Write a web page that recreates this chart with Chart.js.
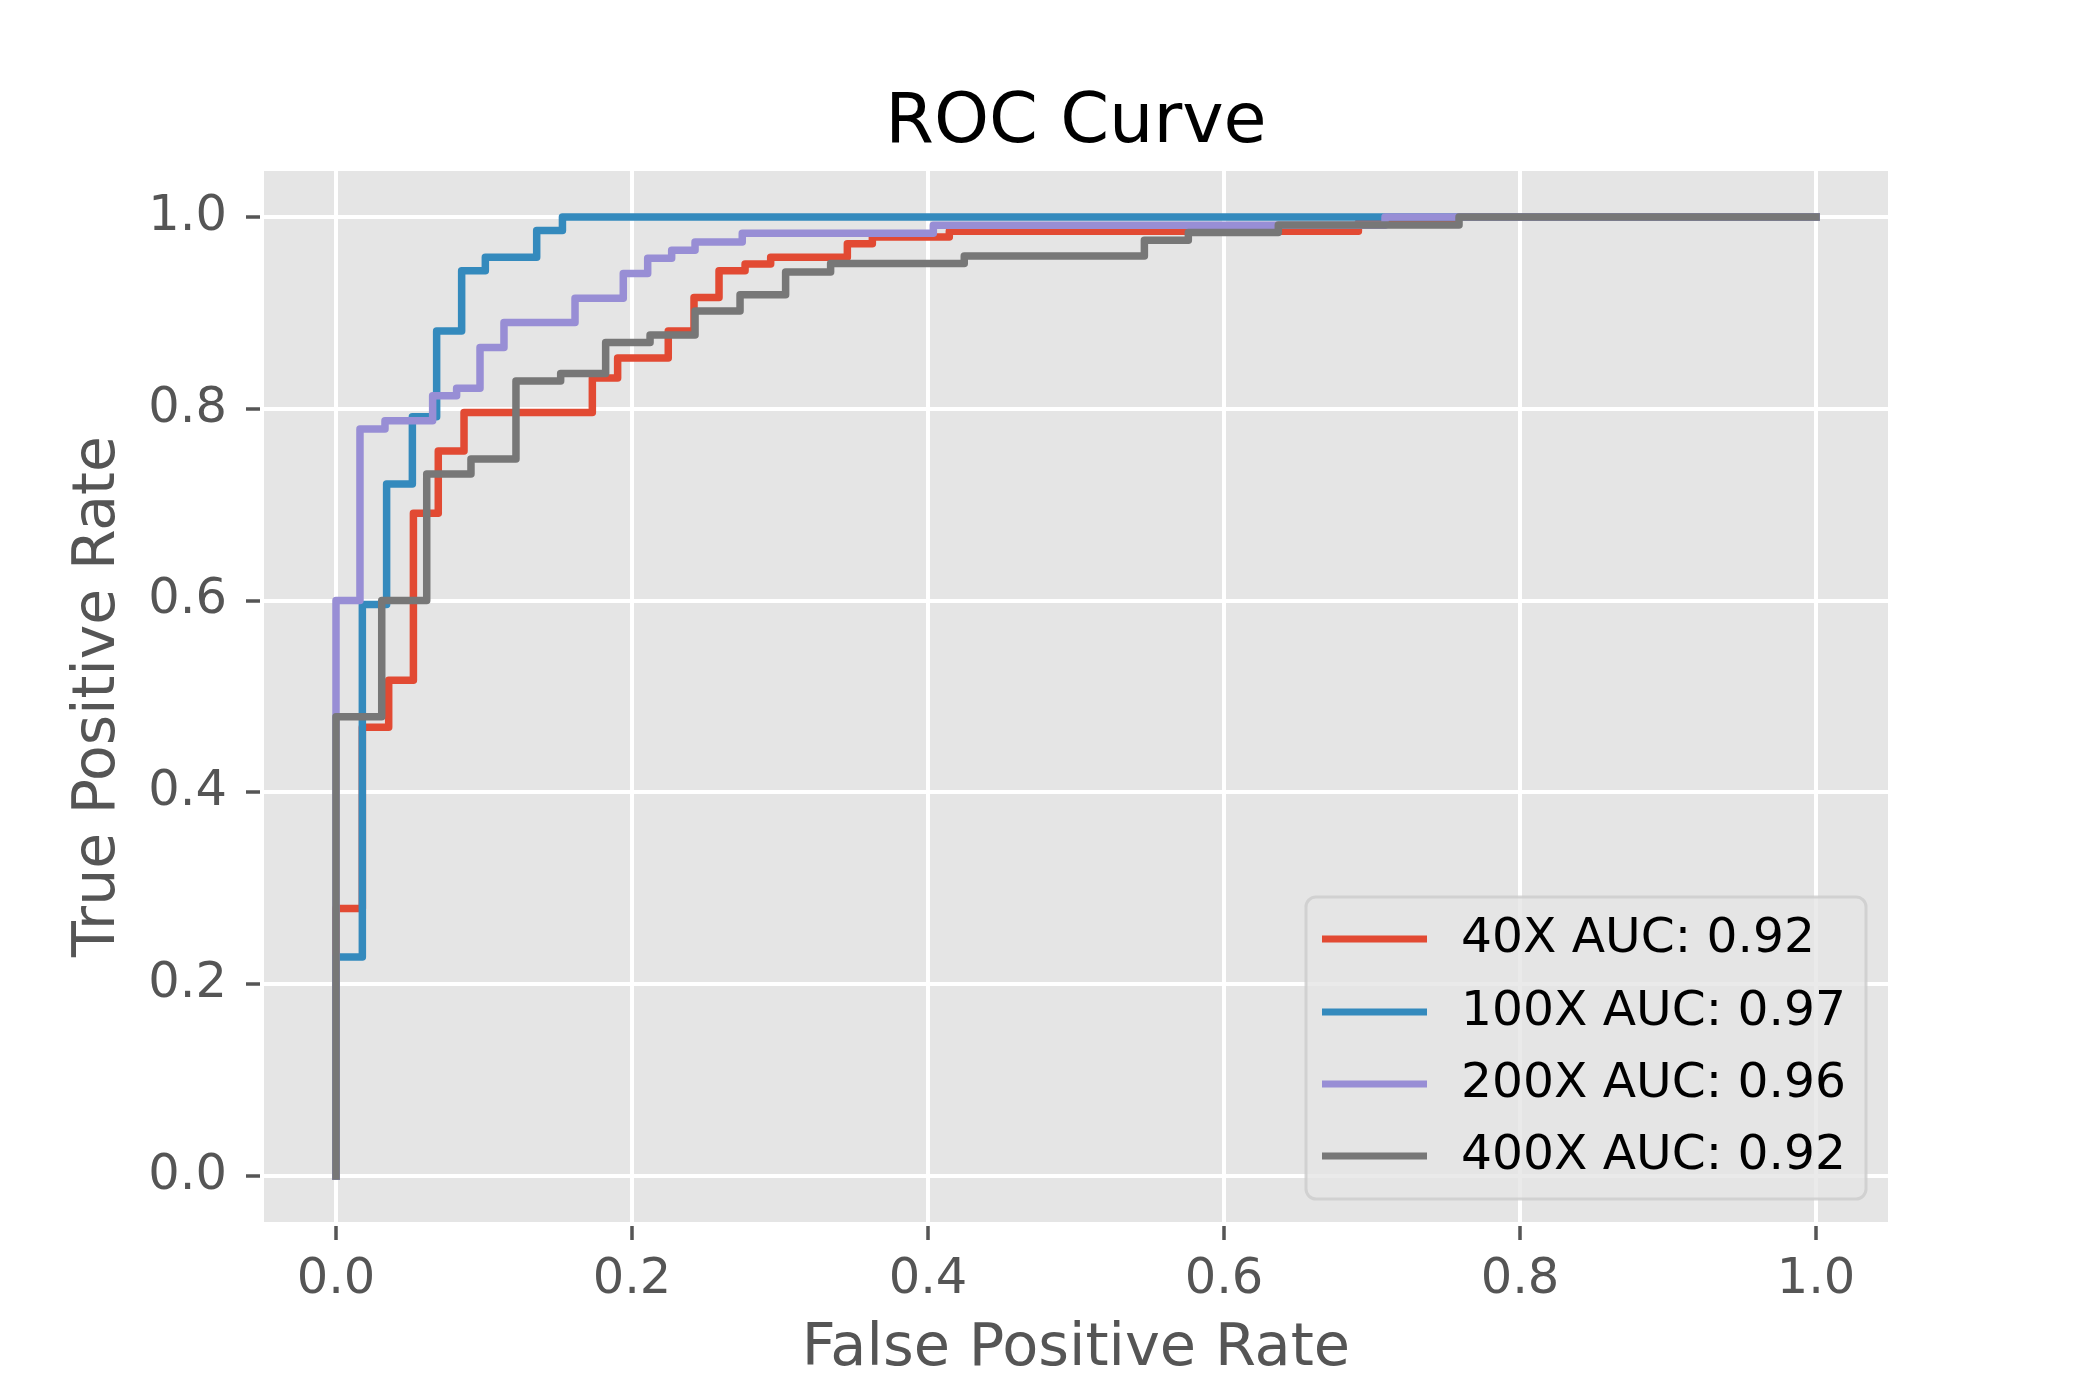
<!DOCTYPE html>
<html>
<head>
<meta charset="utf-8">
<script src="https://cdn.jsdelivr.net/npm/chart.js@4"></script>
<style>
  html, body { margin: 0; padding: 0; background: #fff; overflow: hidden; }
  canvas { display: block; }
</style>
</head>
<body>
<canvas id="roc-chart" width="2100" height="1400" style="width:2100px;height:1400px"></canvas>
<script>
// ROC step corners (fpr where tpr rises, tpr after the rise)
const fpr40 = [0, 0, 0.0178, 0.0356, 0.0523, 0.0691, 0.0865, 0.1732, 0.1903, 0.2245, 0.2419, 0.2588, 0.2764, 0.2937, 0.3455, 0.3624, 0.4144, 0.6908, 0.7583, 1.0];
const tpr40 = [0, 0.279, 0.468, 0.517, 0.691, 0.756, 0.796, 0.832, 0.853, 0.881, 0.916, 0.944, 0.951, 0.958, 0.972, 0.979, 0.985, 0.994, 1.0, 1.0];

const fpr100 = [0, 0, 0.0178, 0.0342, 0.0516, 0.068, 0.0849, 0.1009, 0.1356, 0.153, 1.0];
const tpr100 = [0, 0.2285, 0.596, 0.7215, 0.7917, 0.881, 0.944, 0.958, 0.986, 1.0, 1.0];

const fpr200 = [0, 0, 0.0162, 0.0331, 0.0653, 0.0815, 0.0973, 0.1135, 0.1615, 0.1941, 0.2106, 0.2268, 0.2426, 0.2745, 0.4036, 0.7088, 1.0];
const tpr200 = [0, 0.6, 0.779, 0.7875, 0.8135, 0.8215, 0.864, 0.89, 0.9153, 0.941, 0.957, 0.9653, 0.974, 0.983, 0.9913, 1.0, 1.0];

const fpr400 = [0, 0, 0.0309, 0.0613, 0.0912, 0.1216, 0.1518, 0.1822, 0.2122, 0.2426, 0.273, 0.3038, 0.3342, 0.4245, 0.5462, 0.5759, 0.6367, 0.7588, 1.0];
const tpr400 = [0, 0.479, 0.6, 0.732, 0.7476, 0.829, 0.8368, 0.869, 0.877, 0.902, 0.919, 0.9427, 0.9514, 0.9594, 0.9757, 0.9837, 0.9917, 1.0, 1.0];

const seriesLabels = ['40X AUC: 0.92', '100X AUC: 0.97', '200X AUC: 0.96', '400X AUC: 0.92'];
const seriesColors = ['#E24A33', '#348ABD', '#988ED5', '#777777'];
const tickValues = [0, 0.2, 0.4, 0.6, 0.8, 1.0];

const FONT = 'DejaVu Sans';
const LINE_W = 7.5;

function toPoints(xs, ys) {
    return xs.map((x, i) => ({ x: x, y: ys[i] }));
}

const allX = [fpr40, fpr100, fpr200, fpr400];
const allY = [tpr40, tpr100, tpr200, tpr400];

const datasets = seriesLabels.map((label, i) => ({
    label: label,
    data: toPoints(allX[i], allY[i]),
    showLine: true,
    stepped: 'before',
    borderColor: seriesColors[i],
    backgroundColor: seriesColors[i],
    borderWidth: LINE_W,
    borderCapStyle: 'square',
    borderJoinStyle: 'round',
    pointRadius: 0,
    fill: false,
    order: seriesLabels.length - i   // later series drawn on top, like matplotlib
}));

// grey ggplot panel behind the grid, white frame on top
const panelBackground = {
    id: 'panelBackground',
    beforeDraw(chart) {
        const { ctx, chartArea } = chart;
        ctx.save();
        ctx.fillStyle = '#ffffff';
        ctx.fillRect(0, 0, chart.width, chart.height);
        ctx.fillStyle = '#E5E5E5';
        ctx.fillRect(chartArea.left, chartArea.top, chartArea.right - chartArea.left, chartArea.bottom - chartArea.top);
        ctx.restore();
    },
    afterDatasetsDraw(chart) {
        const { ctx, chartArea } = chart;
        ctx.save();
        ctx.strokeStyle = '#ffffff';
        ctx.lineWidth = 4;
        ctx.strokeRect(chartArea.left, chartArea.top, chartArea.right - chartArea.left, chartArea.bottom - chartArea.top);
        ctx.restore();
    }
};

// matplotlib style legend box in the lower right
const boxLegend = {
    id: 'boxLegend',
    afterDatasetsDraw(chart) {
        const ctx = chart.ctx;
        const x0 = 1306, y0 = 897, w = 560, h = 302, r = 10;
        ctx.save();
        ctx.beginPath();
        ctx.roundRect(x0, y0, w, h, r);
        ctx.fillStyle = 'rgba(229,229,229,0.8)';
        ctx.fill();
        ctx.lineWidth = 3;
        ctx.strokeStyle = 'rgba(204,204,204,0.8)';
        ctx.stroke();

        const rowY = [939, 1012, 1084, 1156];
        chart.data.datasets.forEach((ds, i) => {
            ctx.beginPath();
            ctx.moveTo(1322, rowY[i]);
            ctx.lineTo(1427, rowY[i]);
            ctx.lineWidth = 7;
            ctx.lineCap = 'butt';
            ctx.strokeStyle = ds.borderColor;
            ctx.stroke();
            ctx.fillStyle = '#000000';
            ctx.font = '48.7px "' + FONT + '"';
            ctx.textAlign = 'left';
            ctx.textBaseline = 'middle';
            ctx.fillText(ds.label, 1461, rowY[i]);
        });
        ctx.restore();
    }
};

function axisOptions(titleText, isX) {
    return {
        type: 'linear',
        min: -0.05,
        max: 1.05,
        afterBuildTicks: (scale) => {
            scale.ticks = tickValues.map(v => ({ value: v }));
        },
        afterFit: (scale) => {
            if (isX) scale.height = 176;
            else scale.width = 262;
        },
        border: { display: false },
        grid: {
            color: '#ffffff',
            lineWidth: 4,
            drawTicks: true,
            tickLength: 16,
            tickColor: '#555555',
            tickWidth: 3.5
        },
        ticks: {
            color: '#555555',
            font: { family: FONT, size: 49.5 },
            padding: isX ? 10 : 19,
            maxRotation: 0,
            callback: (v) => Number(v).toFixed(1)
        },
        title: {
            display: true,
            text: titleText,
            color: '#555555',
            font: { family: FONT, size: isX ? 59 : 58.5 },
            padding: isX ? { top: 0, bottom: 15 } : { top: 64, bottom: 0 }
        }
    };
}

new Chart(document.getElementById('roc-chart'), {
    type: 'scatter',
    data: { datasets: datasets },
    options: {
        responsive: false,
        animation: false,
        devicePixelRatio: 1,
        layout: { padding: { left: 0, right: 210, top: 0, bottom: 0 } },
        scales: {
            x: axisOptions('False Positive Rate', true),
            y: axisOptions('True Positive Rate', false)
        },
        plugins: {
            legend: { display: false },
            tooltip: { enabled: false },
            title: {
                display: true,
                fullSize: false,
                text: 'ROC Curve',
                color: '#000000',
                font: { family: FONT, size: 70, weight: 'normal' },
                padding: { top: 82, bottom: 3 }
            }
        }
    },
    plugins: [panelBackground, boxLegend]
});
</script>
</body>
</html>
